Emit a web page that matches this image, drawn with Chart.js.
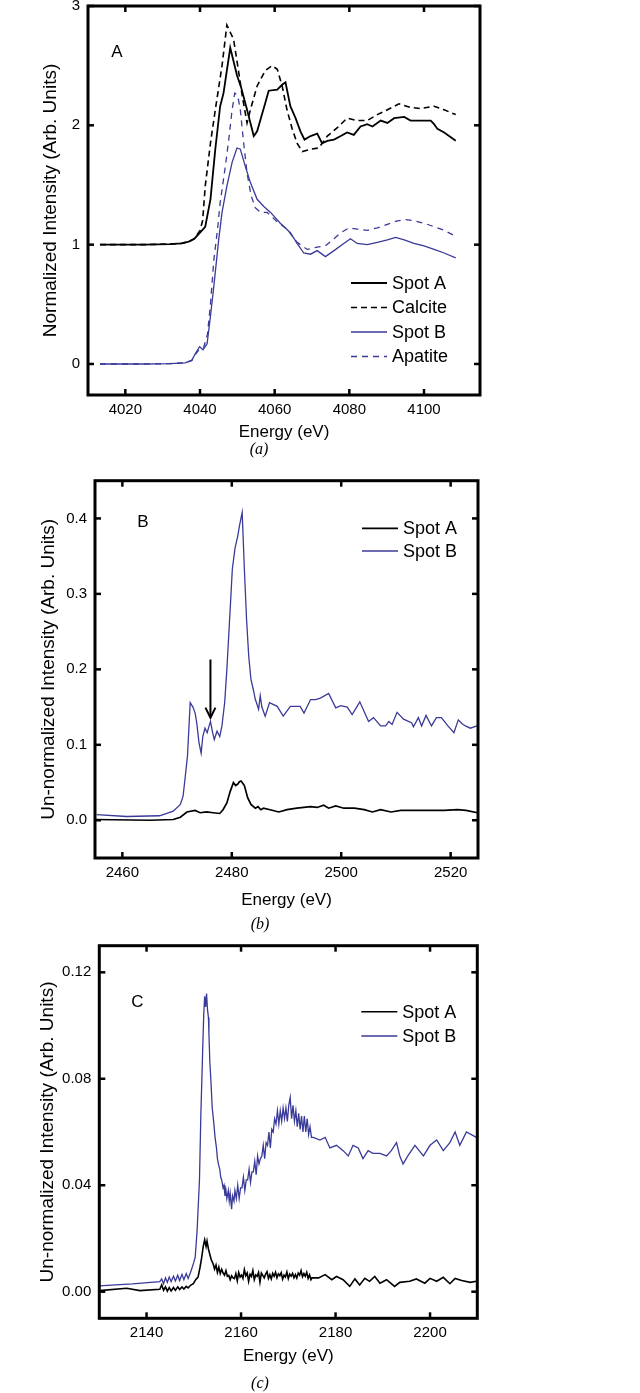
<!DOCTYPE html>
<html>
<head>
<meta charset="utf-8">
<script src="https://cdn.jsdelivr.net/npm/chart.js@4"></script>
<style>
  body { margin: 0; background: #fff; }
  .wrap { position: relative; width: 640px; height: 1393px; }
  canvas { position: absolute; left: 0; }
  .cap { position: absolute; font: italic 16px "Liberation Serif", serif; color: #000; transform: translate(-50%, -50%); }
</style>
</head>
<body>
<div class="wrap">
  <canvas id="chartA" width="640" height="445" style="top:0px"></canvas>
  <div class="cap" style="left:259px; top:449px">(a)</div>
  <canvas id="chartB" width="640" height="455" style="top:460px"></canvas>
  <div class="cap" style="left:260px; top:924px">(b)</div>
  <canvas id="chartC" width="640" height="445" style="top:925px"></canvas>
  <div class="cap" style="left:260px; top:1383px">(c)</div>
</div>
<script>
// ---------- panel A ----------
const aSpotAE = [4013.2, 4025, 4032, 4035, 4037, 4038.5, 4040, 4041.4, 4042.8, 4044.1, 4045.4, 4046.3, 4048.1, 4049.9, 4051, 4052.6, 4054.4, 4055.3, 4057.5, 4058.4, 4060.7, 4062, 4062.9, 4064.2, 4065.6, 4066.9, 4068, 4069.6, 4071.4, 4072.7, 4074.1, 4075.9, 4077.7, 4079.4, 4081.2, 4083, 4084.8, 4086.2, 4088.4, 4090.2, 4092, 4094.7, 4096.4, 4099.1, 4101.8, 4102.7, 4103.6, 4105.4, 4108.5];
const aSpotAI = [1.0, 1.0, 1.005, 1.01, 1.025, 1.05, 1.10, 1.15, 1.38, 1.80, 2.16, 2.27, 2.65, 2.42, 2.32, 2.13, 1.91, 1.95, 2.19, 2.29, 2.30, 2.34, 2.36, 2.16, 2.06, 1.95, 1.88, 1.91, 1.93, 1.85, 1.87, 1.88, 1.91, 1.94, 1.92, 1.99, 2.01, 1.99, 2.04, 2.02, 2.06, 2.07, 2.04, 2.04, 2.04, 2.01, 1.97, 1.94, 1.87];
const aCalciteE = [4013.2, 4025, 4032, 4035, 4037, 4038.5, 4040, 4040.7, 4041.4, 4042.8, 4044.1, 4045.9, 4047.2, 4049, 4050.1, 4051.3, 4052.6, 4053.5, 4055.3, 4057.5, 4059.3, 4060.7, 4062, 4063.3, 4064.7, 4066, 4067.4, 4069.6, 4071.8, 4074.1, 4076.8, 4079.4, 4082.1, 4084.8, 4087.5, 4090.2, 4093.3, 4096.4, 4099.1, 4102.7, 4105.4, 4108.5];
const aCalciteI = [1.0, 1.0, 1.005, 1.01, 1.025, 1.05, 1.12, 1.2, 1.49, 1.85, 2.13, 2.50, 2.84, 2.72, 2.50, 2.25, 2.02, 2.13, 2.33, 2.46, 2.50, 2.47, 2.33, 2.13, 1.97, 1.85, 1.78, 1.80, 1.81, 1.91, 1.98, 2.06, 2.04, 2.04, 2.09, 2.13, 2.18, 2.15, 2.14, 2.16, 2.13, 2.09];
const aSpotBE = [4013.2, 4025, 4032, 4036, 4037.8, 4038.8, 4039.9, 4040.8, 4041.9, 4042.8, 4043.7, 4045, 4045.9, 4047.2, 4048.6, 4049.9, 4050.8, 4052.1, 4053.5, 4055.3, 4057.1, 4058.9, 4061.5, 4064.2, 4066, 4067.8, 4069.6, 4071.4, 4073.6, 4075.9, 4078.5, 4080.3, 4082.1, 4084.8, 4087.5, 4090.2, 4092.4, 4094.7, 4097.3, 4100, 4102.7, 4105.4, 4108.5];
const aSpotBI = [0, 0, 0.003, 0.01, 0.03, 0.09, 0.145, 0.12, 0.17, 0.40, 0.65, 1.04, 1.27, 1.49, 1.69, 1.81, 1.80, 1.66, 1.52, 1.38, 1.32, 1.27, 1.18, 1.10, 1.01, 0.93, 0.92, 0.95, 0.90, 0.95, 1.01, 1.05, 1.01, 1.00, 1.02, 1.04, 1.06, 1.04, 1.01, 0.99, 0.96, 0.93, 0.89];
const aApatiteE = [4013.2, 4025, 4032, 4036, 4037.8, 4039, 4040, 4041, 4042, 4042.8, 4043.7, 4044.7, 4045.4, 4046.8, 4047.7, 4048.6, 4049.3, 4050.1, 4050.8, 4051.7, 4052.6, 4053.7, 4054.8, 4056.2, 4058, 4060.7, 4063.3, 4066, 4068.7, 4071.4, 4073.6, 4075.9, 4077.7, 4079.9, 4082.1, 4084.8, 4087.5, 4090.2, 4092.9, 4095.1, 4097.3, 4100, 4102.7, 4105.4, 4108.5];
const aApatiteI = [0, 0, 0.003, 0.01, 0.03, 0.09, 0.13, 0.14, 0.25, 0.5, 0.87, 1.13, 1.35, 1.66, 1.88, 2.13, 2.27, 2.25, 2.13, 1.85, 1.60, 1.41, 1.31, 1.27, 1.27, 1.19, 1.13, 1.02, 0.96, 0.98, 0.99, 1.05, 1.10, 1.14, 1.13, 1.12, 1.14, 1.17, 1.20, 1.21, 1.20, 1.18, 1.15, 1.12, 1.07];
const aXTicks = [4020, 4040, 4060, 4080, 4100];
const aYTicks = [0, 1, 2, 3];

// ---------- panel B ----------
const bSpotAE = [2455, 2465, 2469.3, 2470.6, 2471.8, 2473.3, 2474.2, 2475.4, 2476.6, 2477.8, 2478.4, 2479.1, 2479.7, 2480.3, 2480.7, 2481.1, 2481.4, 2481.7, 2482, 2482.3, 2482.9, 2483.5, 2484.3, 2484.8, 2485.3, 2485.8, 2487, 2488.6, 2490.1, 2491.9, 2494.4, 2495.6, 2496.8, 2497.7, 2499, 2500.5, 2502.4, 2504.2, 2505.7, 2507.2, 2509.1, 2510.9, 2513.4, 2515.8, 2518.8, 2521.3, 2522.8, 2524.9];
const bSpotAI = [0.001, 0, 0.001, 0.004, 0.011, 0.013, 0.010, 0.011, 0.010, 0.009, 0.014, 0.023, 0.038, 0.050, 0.046, 0.048, 0.051, 0.052, 0.049, 0.046, 0.030, 0.021, 0.016, 0.018, 0.014, 0.016, 0.014, 0.011, 0.014, 0.016, 0.018, 0.017, 0.020, 0.016, 0.019, 0.016, 0.016, 0.014, 0.011, 0.014, 0.011, 0.013, 0.013, 0.013, 0.013, 0.014, 0.013, 0.010];
const bSpotBE = [2455.3, 2460.8, 2466.8, 2469.3, 2470.6, 2471.1, 2471.5, 2471.9, 2472.4, 2472.9, 2473.3, 2473.6, 2474, 2474.4, 2474.7, 2475.1, 2475.5, 2476.1, 2476.5, 2476.8, 2477.3, 2477.8, 2478.2, 2478.7, 2479.1, 2479.7, 2480.1, 2480.6, 2481.1, 2481.4, 2481.9, 2482.3, 2482.7, 2483.1, 2483.5, 2484, 2484.3, 2484.5, 2484.9, 2485.2, 2485.5, 2486.1, 2486.9, 2488.3, 2489.4, 2490.7, 2492.5, 2493.2, 2494.4, 2495.3, 2496.2, 2497.7, 2499, 2499.9, 2501.1, 2502, 2503.4, 2505, 2505.9, 2507.2, 2508.1, 2508.7, 2509.3, 2510.2, 2511.4, 2512.9, 2513.2, 2514.1, 2514.7, 2515.5, 2516.5, 2517.4, 2518.3, 2519.5, 2520.6, 2521.4, 2522.1, 2522.7, 2523.6, 2524.8];
const bSpotBI = [0.0076, 0.005, 0.006, 0.012, 0.021, 0.032, 0.058, 0.085, 0.156, 0.150, 0.142, 0.129, 0.103, 0.089, 0.111, 0.122, 0.116, 0.131, 0.116, 0.107, 0.118, 0.111, 0.125, 0.156, 0.200, 0.279, 0.333, 0.361, 0.377, 0.390, 0.408, 0.333, 0.266, 0.217, 0.187, 0.171, 0.160, 0.156, 0.147, 0.165, 0.150, 0.138, 0.156, 0.151, 0.138, 0.151, 0.151, 0.142, 0.160, 0.160, 0.162, 0.168, 0.149, 0.152, 0.150, 0.140, 0.157, 0.131, 0.136, 0.125, 0.125, 0.131, 0.127, 0.143, 0.134, 0.129, 0.124, 0.136, 0.125, 0.139, 0.125, 0.136, 0.136, 0.125, 0.116, 0.133, 0.128, 0.125, 0.122, 0.125];
const bArrowE = 2476.1;
const bArrowFrom = 0.213;
const bArrowTo = 0.136;
const bXTicks = [2460, 2480, 2500, 2520];
const bYTicks = [0.0, 0.1, 0.2, 0.3, 0.4];

// ---------- panel C ----------
const cSpotAE = [2130, 2135.8, 2138.6, 2142.8, 2143.2, 2143.6, 2144, 2144.4, 2144.8, 2145.2, 2145.7, 2146.1, 2146.6, 2147, 2147.5, 2147.9, 2148.4, 2148.8, 2149.3, 2149.9, 2150.4, 2150.9, 2151.3, 2151.6, 2152, 2152.3, 2152.6, 2152.8, 2153.1, 2153.4, 2153.7, 2154.1, 2154.4, 2154.7, 2155, 2155.3, 2155.6, 2155.9, 2156.2, 2156.5, 2156.8, 2157.1, 2157.4, 2157.7, 2158, 2158.3, 2158.6, 2158.9, 2159.2, 2159.5, 2159.8, 2160.1, 2160.4, 2160.7, 2161, 2161.3, 2161.6, 2161.9, 2162.2, 2162.5, 2162.8, 2163.1, 2163.4, 2163.7, 2164, 2164.3, 2164.6, 2164.9, 2165.2, 2165.5, 2165.8, 2166.1, 2166.4, 2166.7, 2167, 2167.3, 2167.6, 2167.9, 2168.2, 2168.5, 2168.8, 2169.1, 2169.4, 2169.7, 2170, 2170.3, 2170.6, 2170.9, 2171.2, 2171.5, 2171.8, 2172.1, 2172.4, 2172.7, 2173, 2173.3, 2173.6, 2173.9, 2174.2, 2174.5, 2174.8, 2175, 2176.4, 2177.8, 2179.2, 2180.2, 2181.6, 2183, 2184.1, 2185.1, 2186.2, 2187.2, 2188.3, 2189.4, 2190.8, 2192.5, 2193.6, 2195.7, 2197.1, 2198.9, 2200, 2201.4, 2202.8, 2204.2, 2205.3, 2206.7, 2208.5, 2209.8];
const cSpotAI = [0.0004, 0.0013, 0.0004, 0.0009, 0.0025, 0.0005, 0.0018, 0.0002, 0.0015, 0.0003, 0.0016, 0.0005, 0.0018, 0.0008, 0.0018, 0.0010, 0.0020, 0.0014, 0.0024, 0.0030, 0.0045, 0.0055, 0.0090, 0.0120, 0.0170, 0.0195, 0.0170, 0.0190, 0.0160, 0.0140, 0.0120, 0.0104, 0.0085, 0.0100, 0.0072, 0.0092, 0.0068, 0.0084, 0.0070, 0.0062, 0.0079, 0.0058, 0.0061, 0.0045, 0.0060, 0.0052, 0.0049, 0.0068, 0.0041, 0.0072, 0.0055, 0.0062, 0.0050, 0.0083, 0.0060, 0.0070, 0.0039, 0.0065, 0.0057, 0.0079, 0.0045, 0.0063, 0.0058, 0.0072, 0.0036, 0.0070, 0.0061, 0.0052, 0.0066, 0.0075, 0.0050, 0.0064, 0.0048, 0.0069, 0.0058, 0.0073, 0.0052, 0.0067, 0.0060, 0.0071, 0.0047, 0.0062, 0.0055, 0.0074, 0.0049, 0.0066, 0.0058, 0.0069, 0.0052, 0.0064, 0.0051, 0.0070, 0.0062, 0.0079, 0.0056, 0.0068, 0.0058, 0.0073, 0.0050, 0.0063, 0.0045, 0.0052, 0.0052, 0.0064, 0.0045, 0.0057, 0.0045, 0.0020, 0.0048, 0.0025, 0.0050, 0.0039, 0.0057, 0.0032, 0.0045, 0.0020, 0.0035, 0.0039, 0.0048, 0.0032, 0.0050, 0.0039, 0.0054, 0.0030, 0.0050, 0.0042, 0.0035, 0.0039];
const cSpotBE = [2130, 2137, 2142.8, 2143.2, 2143.6, 2144, 2144.4, 2144.8, 2145.2, 2145.7, 2146.1, 2146.6, 2147, 2147.5, 2147.9, 2148.4, 2148.8, 2149.3, 2149.6, 2150, 2150.3, 2150.7, 2151.2, 2151.5, 2151.9, 2152.1, 2152.3, 2152.5, 2152.7, 2152.9, 2153.1, 2153.2, 2153.4, 2153.6, 2153.9, 2154.2, 2154.5, 2154.8, 2155, 2155.2, 2155.5, 2155.7, 2155.9, 2156.2, 2156.4, 2156.6, 2156.8, 2157, 2157.3, 2157.5, 2157.7, 2158, 2158.2, 2158.5, 2158.7, 2159, 2159.3, 2159.6, 2159.9, 2160.2, 2160.5, 2160.8, 2161.1, 2161.4, 2161.7, 2162, 2162.3, 2162.6, 2162.9, 2163.2, 2163.5, 2163.8, 2164.1, 2164.4, 2164.7, 2165, 2165.3, 2165.6, 2165.9, 2166.2, 2166.5, 2166.8, 2167.1, 2167.4, 2167.7, 2168, 2168.3, 2168.6, 2168.9, 2169.2, 2169.5, 2169.8, 2170.1, 2170.4, 2170.7, 2171, 2171.3, 2171.6, 2171.9, 2172.2, 2172.5, 2172.8, 2173.1, 2173.4, 2173.7, 2174, 2174.3, 2174.6, 2174.9, 2175.3, 2176.7, 2177.8, 2178.8, 2180.2, 2181.6, 2182.7, 2183.7, 2184.8, 2185.8, 2186.9, 2187.9, 2189.4, 2190.8, 2191.8, 2192.9, 2193.6, 2194.3, 2195.3, 2196.8, 2198.6, 2200, 2201.4, 2202.8, 2204.2, 2205.3, 2206.3, 2207.7, 2209.8];
const cSpotBI = [0.0022, 0.0029, 0.0038, 0.0048, 0.0030, 0.0052, 0.0035, 0.0055, 0.0038, 0.0058, 0.0040, 0.0062, 0.0042, 0.0065, 0.0045, 0.0068, 0.0050, 0.0072, 0.0088, 0.0110, 0.0130, 0.023, 0.042, 0.067, 0.092, 0.104, 0.111, 0.107, 0.112, 0.106, 0.103, 0.097, 0.086, 0.080, 0.069, 0.064, 0.058, 0.054, 0.050, 0.048, 0.046, 0.043, 0.042, 0.039, 0.040, 0.036, 0.038, 0.035, 0.038, 0.034, 0.037, 0.031, 0.036, 0.034, 0.038, 0.035, 0.040, 0.035, 0.039, 0.039, 0.043, 0.038, 0.042, 0.042, 0.046, 0.041, 0.045, 0.045, 0.049, 0.044, 0.051, 0.048, 0.050, 0.051, 0.055, 0.050, 0.056, 0.055, 0.060, 0.054, 0.061, 0.060, 0.065, 0.063, 0.068, 0.063, 0.068, 0.064, 0.069, 0.065, 0.069, 0.064, 0.070, 0.073, 0.065, 0.070, 0.064, 0.068, 0.062, 0.067, 0.061, 0.066, 0.060, 0.066, 0.060, 0.065, 0.059, 0.062, 0.058, 0.058, 0.057, 0.058, 0.054, 0.055, 0.053, 0.051, 0.055, 0.054, 0.050, 0.053, 0.052, 0.052, 0.051, 0.053, 0.056, 0.051, 0.048, 0.051, 0.055, 0.051, 0.055, 0.057, 0.053, 0.056, 0.060, 0.055, 0.060, 0.058];
const cXTicks = [2140, 2160, 2180, 2200];
const cYTicks = [0.00, 0.04, 0.08, 0.12];

const BLUE = '#3a3a98';

Chart.defaults.font.family = '"Liberation Sans", Arial, sans-serif';
Chart.defaults.color = '#000';

function pts(xs, ys) {
    return xs.map(function (x, i) { return { x: x, y: ys[i] }; });
}

function line(ctx, x1, y1, x2, y2) {
    ctx.beginPath();
    ctx.moveTo(x1, y1);
    ctx.lineTo(x2, y2);
    ctx.stroke();
}

// frame, inward ticks on all sides, panel letter, legend and arrow
const framePlugin = {
    id: 'frame',
    afterDatasetsDraw(chart, args, opts) {
        const ctx = chart.ctx;
        const a = chart.chartArea;
        const xs = chart.scales.x, ys = chart.scales.y;
        ctx.save();
        ctx.strokeStyle = '#000';
        ctx.lineWidth = 3;
        ctx.strokeRect(a.left, a.top, a.right - a.left, a.bottom - a.top);
        ctx.lineWidth = 2.5;
        const tl = 6;
        xs.ticks.forEach(function (t) {
            const p = xs.getPixelForValue(t.value);
            line(ctx, p, a.bottom, p, a.bottom - tl);
            line(ctx, p, a.top, p, a.top + tl);
        });
        ys.ticks.forEach(function (t) {
            const p = ys.getPixelForValue(t.value);
            line(ctx, a.left, p, a.left + tl, p);
            line(ctx, a.right, p, a.right - tl, p);
        });

        ctx.fillStyle = '#000';
        ctx.textAlign = 'center';
        ctx.textBaseline = 'middle';
        ctx.font = '17px "Liberation Sans", Arial, sans-serif';
        ctx.fillText(opts.letter, a.left + opts.letterX, a.top + opts.letterY);

        ctx.textAlign = 'left';
        ctx.font = '18px "Liberation Sans", Arial, sans-serif';
        chart.data.datasets.forEach(function (ds, i) {
            const y = a.top + opts.legY + i * opts.legStep;
            const x = a.left + opts.legX;
            ctx.strokeStyle = ds.borderColor;
            ctx.lineWidth = ds.borderWidth;
            ctx.setLineDash(ds.borderDash || []);
            line(ctx, x, y, x + 36, y);
            ctx.setLineDash([]);
            ctx.fillText(ds.label, x + 41, y + 1);
        });

        if (opts.arrow) {
            const ax = xs.getPixelForValue(bArrowE);
            const y1 = ys.getPixelForValue(bArrowFrom);
            const y2 = ys.getPixelForValue(bArrowTo);
            ctx.strokeStyle = '#000';
            ctx.lineWidth = 2;
            line(ctx, ax, y1, ax, y2);
            ctx.beginPath();
            ctx.moveTo(ax - 5, y2 - 10);
            ctx.lineTo(ax, y2);
            ctx.lineTo(ax + 5, y2 - 10);
            ctx.stroke();
        }
        ctx.restore();
    }
};

function makeChart(id, datasets, cfg) {
    return new Chart(document.getElementById(id), {
        type: 'line',
        data: { datasets: datasets },
        options: {
            responsive: false,
            animation: false,
            layout: { padding: cfg.padding },
            elements: { point: { radius: 0 }, line: { tension: 0 } },
            plugins: { legend: { display: false }, tooltip: { enabled: false }, frame: cfg.frame },
            scales: {
                x: {
                    type: 'linear',
                    min: cfg.xMin, max: cfg.xMax,
                    afterBuildTicks: function (s) { s.ticks = cfg.xTicks.map(function (v) { return { value: v }; }); },
                    afterFit: function (s) { s.height = cfg.xHeight; s.paddingLeft = 0; s.paddingRight = 0; },
                    grid: { display: false, drawTicks: false },
                    border: { display: false },
                    ticks: { font: { size: 15 }, padding: 6, maxRotation: 0, callback: function (v) { return String(v); } },
                    title: { display: true, text: 'Energy (eV)', font: { size: 17 }, padding: { top: 0, bottom: cfg.xTitlePad } }
                },
                y: {
                    type: 'linear',
                    min: cfg.yMin, max: cfg.yMax,
                    afterBuildTicks: function (s) { s.ticks = cfg.yTicks.map(function (v) { return { value: v }; }); },
                    afterFit: function (s) { s.width = cfg.yWidth; s.paddingTop = 0; s.paddingBottom = 0; },
                    grid: { display: false, drawTicks: false },
                    border: { display: false },
                    ticks: { font: { size: 15 }, padding: 8, callback: function (v) { return v.toFixed(cfg.yDec); } },
                    title: { display: true, text: cfg.yTitle, font: { size: 19 }, padding: { top: cfg.yTitlePad, bottom: 0 } }
                }
            }
        },
        plugins: [framePlugin]
    });
}

makeChart('chartA', [
    { label: 'Spot A', data: pts(aSpotAE, aSpotAI), borderColor: '#000', borderWidth: 1.8 },
    { label: 'Calcite', data: pts(aCalciteE, aCalciteI), borderColor: '#000', borderWidth: 1.6, borderDash: [6, 4] },
    { label: 'Spot B', data: pts(aSpotBE, aSpotBI), borderColor: BLUE, borderWidth: 1.3 },
    { label: 'Apatite', data: pts(aApatiteE, aApatiteI), borderColor: BLUE, borderWidth: 1.3, borderDash: [6, 5] }
], {
    padding: { top: 6, right: 160, bottom: 0, left: 0 },
    xMin: 4010, xMax: 4115, yMin: -0.26, yMax: 3,
    xTicks: aXTicks, yTicks: aYTicks, yDec: 0,
    xHeight: 50, yWidth: 88, xTitlePad: 2, yTitlePad: 39,
    yTitle: 'Normalized Intensity (Arb. Units)',
    frame: { letter: 'A', letterX: 29, letterY: 46, legX: 263, legY: 277, legStep: 24.5 }
});

makeChart('chartB', [
    { label: 'Spot A', data: pts(bSpotAE, bSpotAI), borderColor: '#000', borderWidth: 1.7 },
    { label: 'Spot B', data: pts(bSpotBE, bSpotBI), borderColor: BLUE, borderWidth: 1.3 }
], {
    padding: { top: 20.7, right: 162, bottom: 0, left: 0 },
    xMin: 2455, xMax: 2525, yMin: -0.05, yMax: 0.45,
    xTicks: bXTicks, yTicks: bYTicks, yDec: 1,
    xHeight: 57, yWidth: 95, xTitlePad: 4, yTitlePad: 37,
    yTitle: 'Un-normalized Intensity (Arb. Units)',
    frame: { letter: 'B', letterX: 48, letterY: 42, legX: 267, legY: 47.6, legStep: 22.7, arrow: true }
});

makeChart('chartC', [
    { label: 'Spot A', data: pts(cSpotAE, cSpotAI), borderColor: '#000', borderWidth: 1.6 },
    { label: 'Spot B', data: pts(cSpotBE, cSpotBI), borderColor: BLUE, borderWidth: 1.3 }
], {
    padding: { top: 20.7, right: 162.7, bottom: 0, left: 0 },
    xMin: 2130, xMax: 2210, yMin: -0.01, yMax: 0.13,
    xTicks: cXTicks, yTicks: cYTicks, yDec: 2,
    xHeight: 51.7, yWidth: 99.3, xTitlePad: 3, yTitlePad: 36,
    yTitle: 'Un-normalized Intensity (Arb. Units)',
    frame: { letter: 'C', letterX: 38, letterY: 57, legX: 262, legY: 66, legStep: 24.3 }
});
</script>
</body>
</html>
